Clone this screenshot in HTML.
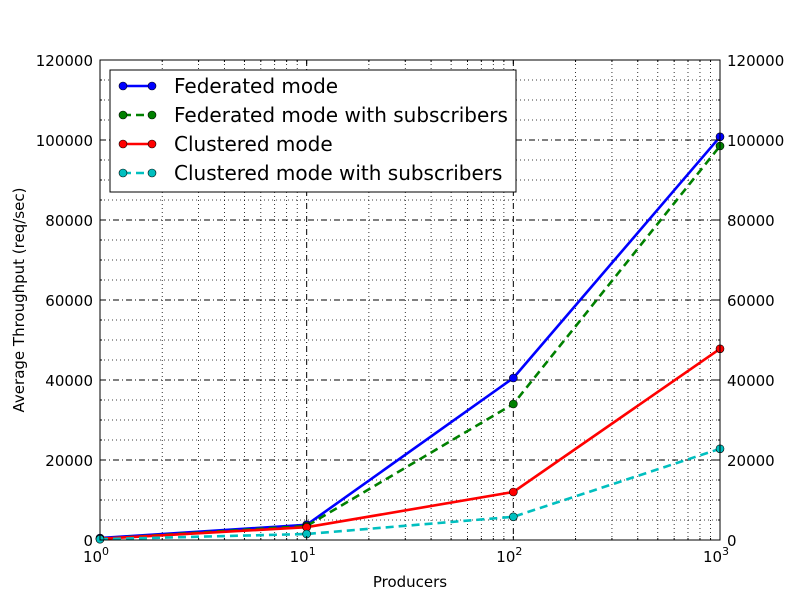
<!DOCTYPE html>
<html><head><meta charset="utf-8"><style>
body{margin:0;background:#fff}
svg text{font-family:"DejaVu Sans","Liberation Sans",sans-serif}
</style></head><body>
<svg id="chart" width="800" height="600" xmlns="http://www.w3.org/2000/svg">
<rect width="800" height="600" fill="#fff"/>
<g id="grid"></g>
<g id="series"></g>
<g id="axes"></g>
<g id="legend"></g>
</svg>
<script>
const xCats=[1,10,100,1000];
const fed=[500,3800,40500,100800];
const fedSub=[300,3500,34000,98500];
const clu=[300,3200,12000,47800];
const cluSub=[200,1500,5800,22800];
const yTicks=[0,20000,40000,60000,80000,100000,120000];
const xTickExp=[0,1,2,3];
const names=["Federated mode","Federated mode with subscribers","Clustered mode","Clustered mode with subscribers"];

const L=100,R=720,T=60,B=540;
const X=v=>L+(Math.log10(v)/3)*(R-L);
const Y=v=>B-(v/120000)*(B-T);
const NS="http://www.w3.org/2000/svg";
function mk(tag,attrs,parent){const e=document.createElementNS(NS,tag);for(const k in attrs)e.setAttribute(k,attrs[k]);parent.appendChild(e);return e;}
const grid=document.getElementById('grid'),ser=document.getElementById('series'),ax=document.getElementById('axes'),lg=document.getElementById('legend');

for(let v=5000;v<120000;v+=5000){
  if(v%20000===0)continue;
  const l=mk('line',{x1:L,x2:R,y1:Y(v),y2:Y(v),stroke:'#000','stroke-width':0.8,'stroke-dasharray':'1,3'},grid);
  
  
  mk('line',{x1:L,x2:L+2,y1:Y(v),y2:Y(v),stroke:'#000'},ax);
  mk('line',{x1:R-2,x2:R,y1:Y(v),y2:Y(v),stroke:'#000'},ax);
}
for(let d=0;d<3;d++)for(let m=2;m<10;m++){
  const x=X(m*Math.pow(10,d));
  const l=mk('line',{x1:x,x2:x,y1:T,y2:B,stroke:'#000','stroke-width':0.8,'stroke-dasharray':'1,3'},grid);
  
  
  mk('line',{x1:x,x2:x,y1:B,y2:B-2,stroke:'#000'},ax);
  mk('line',{x1:x,x2:x,y1:T,y2:T+2,stroke:'#000'},ax);
}
yTicks.forEach(v=>{
  const y=Y(v);
  if(v>0&&v<120000){const l=mk('line',{x1:L,x2:R,y1:y,y2:y,stroke:'#000','stroke-width':1,'stroke-dasharray':'6,3,1,3'},grid);
  
  }
  mk('line',{x1:L,x2:L+4,y1:y,y2:y,stroke:'#000'},ax);
  mk('line',{x1:R-4,x2:R,y1:y,y2:y,stroke:'#000'},ax);
  const t=mk('text',{x:L-7,y:y+6,'text-anchor':'end','font-size':15},ax);t.textContent=v;
  
  
  const t2=mk('text',{x:R+7,y:y+6,'font-size':15},ax);t2.textContent=v;
  
  
});
xTickExp.forEach(e=>{
  const x=X(Math.pow(10,e));
  if(e>0&&e<3){const l=mk('line',{x1:x,x2:x,y1:T,y2:B,stroke:'#000','stroke-width':1,'stroke-dasharray':'6,3,1,3'},grid);
  
  }
  mk('line',{x1:x,x2:x,y1:B,y2:B-4,stroke:'#000'},ax);
  mk('line',{x1:x,x2:x,y1:T,y2:T+4,stroke:'#000'},ax);
  const t=mk('text',{x:x-4,y:B+22,'text-anchor':'middle','font-size':15},ax);
  
  
  t.innerHTML='10<tspan dy="-7" font-size="11">'+e+'</tspan>';
});
const fr=mk('rect',{x:L,y:T,width:R-L,height:B-T,fill:'none',stroke:'#000','stroke-width':1},ax);


let t=mk('text',{x:410,y:587,'text-anchor':'middle','font-size':15},ax);t.textContent='Producers';


t=mk('text',{x:0,y:0,'text-anchor':'middle','font-size':15,transform:'translate(24,300) rotate(-90)'},ax);t.textContent='Average Throughput (req/sec)';



const sdef=[[fed,'#0000ff',null,'federated'],[fedSub,'#008000','8,5','federated-subscribers'],[clu,'#ff0000',null,'clustered'],[cluSub,'#00bfbf','8,5','clustered-subscribers']];
sdef.forEach((s,i)=>{
  const pts=s[0].map((v,j)=>X(xCats[j])+','+Y(v)).join(' ');
  const a={points:pts,fill:'none',stroke:s[1],'stroke-width':2.6};if(s[2])a['stroke-dasharray']=s[2];
  const pl=mk('polyline',a,ser);
  
  
  s[0].forEach((v,j)=>{
    const c=mk('circle',{cx:X(xCats[j]),cy:Y(v),r:4,fill:s[1],stroke:'#000','stroke-width':0.6},ser);
    
    
  });
  const ly=86+i*29;
  const la={x1:123,x2:152,y1:ly,y2:ly,stroke:s[1],'stroke-width':2.6};if(s[2])la['stroke-dasharray']='8,5';
  mk('line',la,lg);
  mk('circle',{cx:123,cy:ly,r:4,fill:s[1],stroke:'#000','stroke-width':0.6},lg);
  mk('circle',{cx:152,cy:ly,r:4,fill:s[1],stroke:'#000','stroke-width':0.6},lg);
  const tx=mk('text',{x:174,y:ly+7,'font-size':20},lg);tx.textContent=names[i];
  
  
});
const lb=mk('rect',{x:110,y:70,width:406,height:122,fill:'#fff',stroke:'#000','stroke-width':1},lg);
lg.insertBefore(lb,lg.firstChild);


</script>
</body></html>
